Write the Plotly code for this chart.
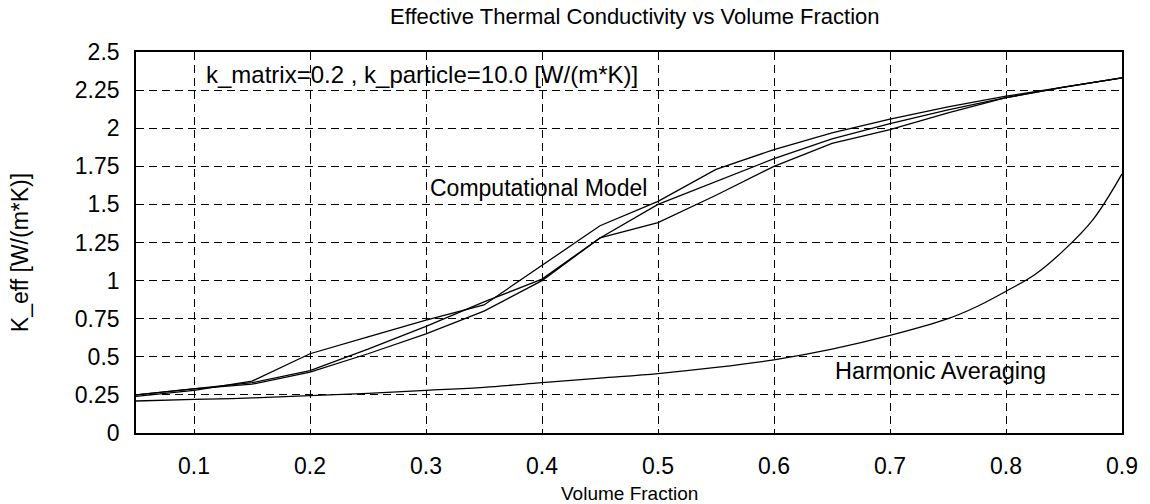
import plotly.graph_objects as go

# Volume fraction sample points
vf = [0.05, 0.10, 0.15, 0.20, 0.25, 0.30, 0.35, 0.40, 0.45, 0.50,
      0.55, 0.60, 0.65, 0.70, 0.75, 0.80, 0.85, 0.90]

# Computational model runs (three realisations)
model_a = [0.24, 0.28, 0.34, 0.52, 0.63, 0.74, 0.84, 1.10, 1.36, 1.52,
           1.73, 1.86, 1.97, 2.06, 2.14, 2.21, 2.27, 2.33]
model_b = [0.25, 0.29, 0.33, 0.41, 0.55, 0.70, 0.86, 1.01, 1.28, 1.50,
           1.65, 1.80, 1.93, 2.03, 2.12, 2.20, 2.27, 2.33]
model_c = [0.25, 0.29, 0.32, 0.40, 0.52, 0.65, 0.80, 1.00, 1.28, 1.38,
           1.56, 1.75, 1.90, 1.99, 2.10, 2.20, 2.27, 2.33]

# Harmonic averaging curve
vf_h = [0.05, 0.10, 0.15, 0.20, 0.25, 0.30, 0.35, 0.40, 0.45, 0.50,
        0.55, 0.60, 0.65, 0.70, 0.75, 0.775, 0.80, 0.825, 0.85, 0.875, 0.90]
harmonic = [0.21, 0.22, 0.23, 0.245, 0.26, 0.28, 0.30, 0.33, 0.36, 0.39,
            0.43, 0.48, 0.55, 0.64, 0.75, 0.83, 0.93, 1.04, 1.20, 1.40, 1.70]

x_ticks = [0.1, 0.2, 0.3, 0.4, 0.5, 0.6, 0.7, 0.8, 0.9]
y_ticks = [0, 0.25, 0.5, 0.75, 1, 1.25, 1.5, 1.75, 2, 2.25, 2.5]
y_tick_text = ["0", "0.25", "0.5", "0.75", "1", "1.25", "1.5", "1.75", "2", "2.25", "2.5"]

FONT = "Liberation Sans, Arial, sans-serif"
line_style = dict(color="black", width=1.3)

fig = go.Figure()
for series in (model_a, model_b, model_c):
    fig.add_trace(go.Scatter(x=vf, y=series, mode="lines", line=line_style,
                             showlegend=False, hoverinfo="skip"))
fig.add_trace(go.Scatter(x=vf_h, y=harmonic, mode="lines", line=line_style,
                         line_shape="spline", showlegend=False, hoverinfo="skip"))

fig.add_annotation(x=0.109, y=2.35, xref="x", yref="y", xanchor="left", yanchor="middle",
                   text="k_matrix=0.2 , k_particle=10.0 [W/(m*K)]", showarrow=False,
                   font=dict(family=FONT, size=24, color="black"))
fig.add_annotation(x=0.302, y=1.61, xref="x", yref="y", xanchor="left", yanchor="middle",
                   text="Computational Model", showarrow=False,
                   font=dict(family=FONT, size=23, color="black"))
fig.add_annotation(x=0.651, y=0.41, xref="x", yref="y", xanchor="left", yanchor="middle",
                   text="Harmonic Averaging", showarrow=False,
                   font=dict(family=FONT, size=23.5, color="black"))
# axis titles
fig.add_annotation(x=0.5, y=0, xref="paper", yref="paper", xanchor="center", yanchor="middle",
                   yshift=-60, text="Volume Fraction", showarrow=False,
                   font=dict(family=FONT, size=19, color="black"))
fig.add_annotation(x=0, y=0.472, xref="paper", yref="paper", xanchor="center", yanchor="middle",
                   xshift=-116, textangle=-90, text="K_eff [W/(m*K)]", showarrow=False,
                   font=dict(family=FONT, size=23, color="black"))

fig.update_layout(
    width=1150, height=504,
    margin=dict(l=136, r=19, t=52, b=71),
    paper_bgcolor="white", plot_bgcolor="white",
    font=dict(family=FONT, color="black"),
    title=dict(text="Effective Thermal Conductivity vs Volume Fraction",
               x=0.552, xref="container", xanchor="center",
               y=1 - 16 / 504, yref="container", yanchor="middle",
               font=dict(family=FONT, size=22, color="black")),
)
fig.update_xaxes(
    range=[0.05, 0.9], tickvals=x_ticks, ticktext=[f"{v:.1f}" for v in x_ticks],
    showgrid=True, gridcolor="black", griddash="8px,5px", gridwidth=1,
    showline=True, linecolor="black", linewidth=1.6, mirror=True,
    ticks="outside", ticklen=12, tickcolor="rgba(0,0,0,0)",
    tickfont=dict(family=FONT, size=23, color="black"),
    zeroline=False,
)
fig.update_yaxes(
    range=[0, 2.5], tickvals=y_ticks, ticktext=y_tick_text,
    showgrid=True, gridcolor="black", griddash="8px,5px", gridwidth=1,
    showline=True, linecolor="black", linewidth=1.6, mirror=True,
    ticks="outside", ticklen=10, tickcolor="rgba(0,0,0,0)",
    tickfont=dict(family=FONT, size=23, color="black"),
    zeroline=False,
)

fig.write_html("out.html")
